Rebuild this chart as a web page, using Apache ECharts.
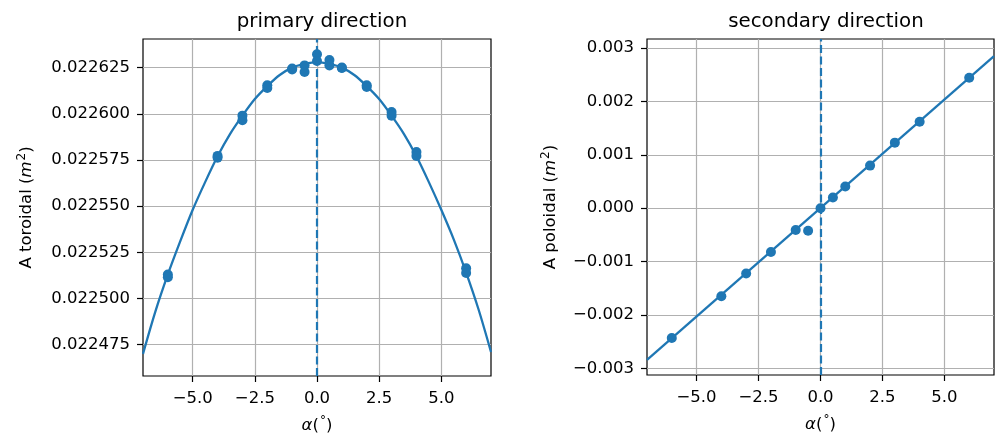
<!DOCTYPE html>
<html>
<head>
<meta charset="utf-8">
<script src="https://cdn.jsdelivr.net/npm/echarts@6/dist/echarts.min.js"></script>
<style>html,body{margin:0;padding:0;background:#fff;}#c{width:1000px;height:434px;}</style>
</head>
<body>
<div id="c"></div>
<script>
// ---- data ----
const titles = ['primary direction', 'secondary direction'];
const xTicks = [-5, -2.5, 0, 2.5, 5];
const yTicksPrimary = [0.022475, 0.0225, 0.022525, 0.02255, 0.022575, 0.0226, 0.022625];
const yTicksSecondary = [-0.003, -0.002, -0.001, 0, 0.001, 0.002, 0.003];
const refAlpha = 0;

// primary direction: measured points
const primaryAlpha = [-6, -6, -4, -4, -3, -3, -2, -2, -1, -1, -0.5, -0.5, 0, 0, 0.5, 0.5, 1, 1, 2, 2, 3, 3, 4, 4, 6, 6];
const primaryArea = [0.0225130, 0.0225115, 0.0225772, 0.0225762, 0.0225990, 0.0225965, 0.0226154, 0.0226140,
  0.0226245, 0.0226240, 0.0226262, 0.0226226, 0.0226322, 0.0226286, 0.0226291, 0.0226262,
  0.0226250, 0.0226248, 0.0226154, 0.0226145, 0.0226009, 0.0225990, 0.0225793, 0.0225772, 0.0225163, 0.0225138];
// primary direction: fitted curve
const primaryFitAlpha = [-7, -6.5, -6, -5.5, -5, -4.5, -4, -3.5, -3, -2.5, -2, -1.5, -1, -0.5, 0,
  0.5, 1, 1.5, 2, 2.5, 3, 3.5, 4, 4.5, 5, 5.5, 6, 6.5, 7];
const primaryFitArea = [0.022470, 0.022493, 0.022513, 0.022531, 0.022548, 0.022563, 0.022577, 0.022589,
  0.022599, 0.022608, 0.022615, 0.022621, 0.022625, 0.022627, 0.022628,
  0.022627, 0.022625, 0.022621, 0.022615, 0.022608, 0.022599, 0.022589, 0.022577, 0.022563,
  0.022548, 0.022532, 0.022514, 0.022494, 0.022471];

// secondary direction: measured points
const secondaryAlpha = [-6, -4, -3, -2, -1, -0.5, 0, 0.5, 1, 2, 3, 4, 6];
const secondaryArea = [-0.002432, -0.00165, -0.001222, -0.000819, -0.00041, -0.000421, 0, 0.0002, 0.000406, 0.000798, 0.001228, 0.00162, 0.002443];
// secondary direction: fitted line
const secondaryFitAlpha = [-7, 7];
const secondaryFitArea = [-0.00284, 0.00285];

// ---- chart ----
const BLUE = '#1f77b4';
const FONT = 'DejaVu Sans';
const FS = 16.5;
const zip = (a, b) => a.map((v, i) => [v, b[i]]);
const minus = s => s.replace('-', '\u2212');

const richName = {
  it: { fontStyle: 'italic', fontSize: FS, fontFamily: FONT, color: '#000', lineHeight: 21 },
  sup: { fontSize: 12, fontFamily: FONT, color: '#000', lineHeight: 21, verticalAlign: 'top', padding: [0, 0, 7, 1] },
  n: { fontSize: FS, fontFamily: FONT, color: '#000', lineHeight: 21 }
};
const tickStyle = { color: '#000', width: 1.2 };
const gridLine = { color: '#b0b0b0', width: 1.2 };

function xAxisFor(i) {
  return {
    type: 'value', gridIndex: i, min: -7, max: 7,
    name: '{it|\u03b1}{n|(}{sup|\u00b0}{n|)}', nameLocation: 'middle', nameGap: 39,
    nameTextStyle: { rich: richName },
    axisLine: { show: false, onZero: false },
    axisTick: { show: true, inside: false, length: 6, lineStyle: tickStyle, customValues: xTicks },
    axisLabel: { margin: 14, fontSize: FS, fontFamily: FONT, color: '#000', customValues: xTicks,
      formatter: v => minus(v.toFixed(1)) },
    splitLine: { show: true, lineStyle: gridLine }
  };
}
function yAxisFor(i, min, max, ticks, dec, name, gap) {
  return {
    type: 'value', gridIndex: i, min: min, max: max,
    name: name, nameLocation: 'middle', nameGap: gap, nameRotate: 90,
    nameTextStyle: { rich: richName },
    axisLine: { show: false, onZero: false },
    axisTick: { show: true, inside: false, length: 6, lineStyle: tickStyle, customValues: ticks },
    axisLabel: { margin: 13, fontSize: FS, fontFamily: FONT, color: '#000', customValues: ticks,
      formatter: v => minus(v.toFixed(dec)) },
    splitLine: { show: true, lineStyle: gridLine }
  };
}
const refLine = {
  silent: true, symbol: 'none', label: { show: false },
  lineStyle: { color: BLUE, width: 2.2, type: [8, 3.5] },
  data: [{ xAxis: refAlpha }]
};

const chart = echarts.init(document.getElementById('c'), null, { renderer: 'canvas' });
chart.setOption({
  animation: false,
  backgroundColor: '#fff',
  title: [
    { text: titles[0], left: 317, top: 7, textAlign: 'center', textStyle: { fontFamily: FONT, fontSize: 19.8, fontWeight: 'normal', color: '#000' } },
    { text: titles[1], left: 821, top: 7, textAlign: 'center', textStyle: { fontFamily: FONT, fontSize: 19.8, fontWeight: 'normal', color: '#000' } }
  ],
  grid: [
    { left: 143, top: 39, width: 348, height: 337, outerBoundsMode: 'none', containLabel: false,
      show: true, borderColor: '#000', borderWidth: 1.2, backgroundColor: 'transparent' },
    { left: 647, top: 39, width: 347, height: 336, outerBoundsMode: 'none', containLabel: false,
      show: true, borderColor: '#000', borderWidth: 1.2, backgroundColor: 'transparent' }
  ],
  xAxis: [xAxisFor(0), xAxisFor(1)],
  yAxis: [
    yAxisFor(0, 0.022458, 0.0226405, yTicksPrimary, 6, '{n|A toroidal (}{it|m}{sup|2}{n|)}', 106),
    yAxisFor(1, -0.003125, 0.00317, yTicksSecondary, 3, '{n|A poloidal (}{it|m}{sup|2}{n|)}', 86)
  ],
  series: [
    { type: 'line', xAxisIndex: 0, yAxisIndex: 0, data: zip(primaryFitAlpha, primaryFitArea), smooth: 0.3,
      showSymbol: false, lineStyle: { color: BLUE, width: 2.3 }, z: 3, markLine: refLine },
    { type: 'scatter', xAxisIndex: 0, yAxisIndex: 0, data: zip(primaryAlpha, primaryArea), symbolSize: 10,
      itemStyle: { color: BLUE, opacity: 1 }, z: 4 },
    { type: 'line', xAxisIndex: 1, yAxisIndex: 1, data: zip(secondaryFitAlpha, secondaryFitArea),
      showSymbol: false, lineStyle: { color: BLUE, width: 2.3 }, z: 3, markLine: refLine },
    { type: 'scatter', xAxisIndex: 1, yAxisIndex: 1, data: zip(secondaryAlpha, secondaryArea), symbolSize: 10,
      itemStyle: { color: BLUE, opacity: 1 }, z: 4 }
  ]
});
</script>
</body>
</html>
